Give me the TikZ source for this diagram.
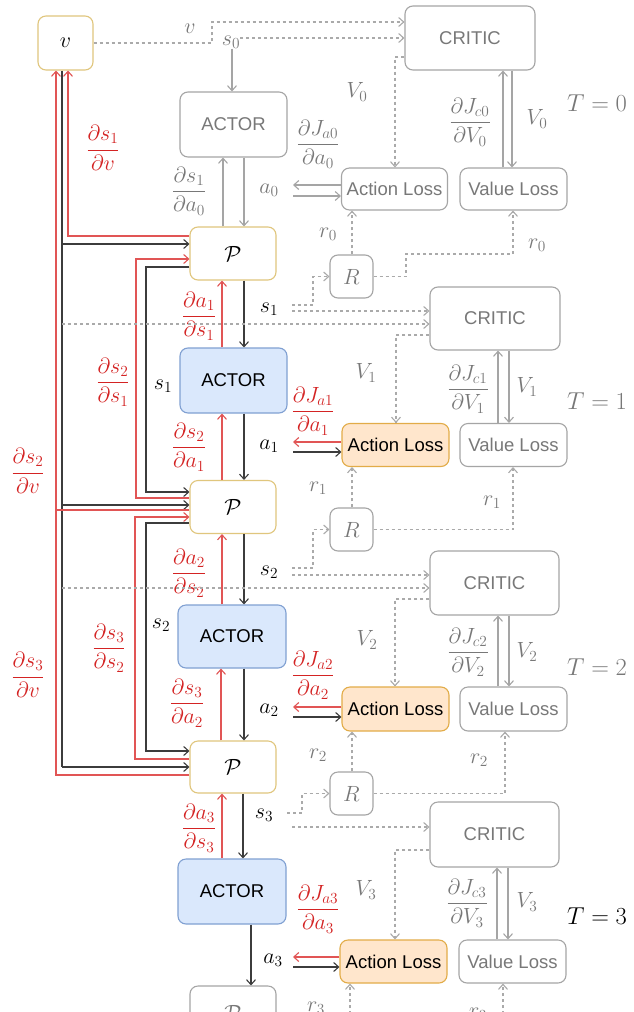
\RequirePackage{fix-cm}
\documentclass[tikz,border=0pt]{standalone}
\usepackage{amsmath}
\usepackage{fontspec}
\setsansfont{Liberation Sans}
\usetikzlibrary{arrows.meta}
\definecolor{gline}{RGB}{165,165,165}
\definecolor{gdline}{RGB}{170,170,170}
\definecolor{gtext}{RGB}{120,120,120}
\definecolor{yline}{RGB}{224,198,125}
\definecolor{rline}{RGB}{225,85,85}
\definecolor{rtext}{RGB}{212,35,35}
\definecolor{kline}{RGB}{60,60,60}
\definecolor{bfill}{RGB}{218,232,252}
\definecolor{bline}{RGB}{128,160,210}
\definecolor{ofill}{RGB}{255,230,204}
\definecolor{oline}{RGB}{226,172,72}
\tikzset{
  tip/.style={-{Straight Barb[length=5pt,width=9pt]}},
  boxbase/.style={draw, rounded corners=8pt, line width=1.1pt, anchor=center, inner sep=0pt,
    font=\sffamily\fontsize{18.5}{20}\selectfont},
  gbox/.style={boxbase, draw=gline, fill=white, text=gtext},
  ybox/.style={boxbase, draw=yline, fill=white, text=black},
  bbox/.style={boxbase, draw=bline, fill=bfill, text=black},
  obox/.style={boxbase, draw=oline, fill=ofill, text=black},
  garrow/.style={draw=gline, line width=1.1pt, tip},
  gdash/.style={draw=gdline, line width=1.1pt, dash pattern=on 3pt off 3pt, tip},
  karrow/.style={draw=kline, line width=1.1pt, tip},
  kline/.style={draw=kline, line width=1.1pt},
  rarrow/.style={draw=rline, line width=1.1pt, tip},
  rlinest/.style={draw=rline, line width=1.1pt},
  lab/.style={inner sep=0pt, anchor=center, font=\fontsize{22}{26}\selectfont},
  glab/.style={lab, text=gtext},
  rlab/.style={lab, text=rtext},
  klab/.style={lab, text=black},
  tlab/.style={inner sep=0pt, anchor=center, font=\fontsize{24.5}{28}\selectfont},
}
\begin{document}
\begin{tikzpicture}[x=1pt,y=-1pt]
\useasboundingbox (0,0) rectangle (633,1012);
\fill[white] (0,0) rectangle (633,1012);

% ---------- boxes ----------
\node[ybox, minimum width=55, minimum height=54, font=\fontsize{22}{26}\selectfont] (v) at (65.5,43) {$v$};
\node[gbox, minimum width=130, minimum height=64] (CRITIC0) at (470,38) {CRITIC};
\node[gbox, minimum width=107, minimum height=65] (ACTOR0) at (233.5,124.5) {ACTOR};
\node[gbox, minimum width=106, minimum height=42] (AL0) at (394.5,189) {Action Loss};
\node[gbox, minimum width=107, minimum height=42] (VL0) at (513.5,189) {Value Loss};
\node[ybox, minimum width=86, minimum height=53, font=\fontsize{22}{26}\selectfont] (P0) at (233,253.5) {$\mathcal{P}$};
\node[gbox, minimum width=43, minimum height=43, font=\fontsize{22}{26}\selectfont] (R0) at (351.5,276.5) {$R$};

\node[gbox, minimum width=130, minimum height=63] (CRITIC1) at (495,318.5) {CRITIC};
\node[bbox, minimum width=107, minimum height=65] (ACTOR1) at (233.5,380.5) {ACTOR};
\node[obox, minimum width=107, minimum height=43] (AL1) at (395.5,445) {Action Loss};
\node[gbox, minimum width=107, minimum height=43] (VL1) at (513.5,445) {Value Loss};
\node[ybox, minimum width=86, minimum height=53, font=\fontsize{22}{26}\selectfont] (P1) at (233,507) {$\mathcal{P}$};
\node[gbox, minimum width=43, minimum height=43, font=\fontsize{22}{26}\selectfont] (R1) at (351.5,529.5) {$R$};

\node[gbox, minimum width=129, minimum height=64] (CRITIC2) at (494.5,583) {CRITIC};
\node[bbox, minimum width=108, minimum height=63] (ACTOR2) at (232,636.5) {ACTOR};
\node[obox, minimum width=107, minimum height=44] (AL2) at (395.5,709) {Action Loss};
\node[gbox, minimum width=107, minimum height=44] (VL2) at (513.5,709) {Value Loss};
\node[ybox, minimum width=86, minimum height=52, font=\fontsize{22}{26}\selectfont] (P2) at (233,767) {$\mathcal{P}$};
\node[gbox, minimum width=43, minimum height=43, font=\fontsize{22}{26}\selectfont] (R2) at (351.5,793.5) {$R$};

\node[gbox, minimum width=129, minimum height=65] (CRITIC3) at (494.5,834.5) {CRITIC};
\node[bbox, minimum width=108, minimum height=65] (ACTOR3) at (232,891.5) {ACTOR};
\node[obox, minimum width=107, minimum height=43] (AL3) at (393.5,961.5) {Action Loss};
\node[gbox, minimum width=107, minimum height=43] (VL3) at (512.5,961.5) {Value Loss};
\node[gbox, minimum width=86, minimum height=54, font=\fontsize{22}{26}\selectfont] (P3) at (233,1013) {$\mathcal{P}$};

% ---------- labels ----------
\node[glab] (lv) at (190,29) {$v$};
\node[glab] (s0) at (231,42) {$s_0$};
\node[rlab] (d1v) at (103,148) {$\dfrac{\partial s_1}{\partial v}$};
\node[glab] (d1a0) at (189,191) {$\dfrac{\partial s_1}{\partial a_0}$};
\node[glab] (a0) at (269,190) {$a_0$};
\node[glab] (dJa0) at (318,144) {$\dfrac{\partial J_{a0}}{\partial a_0}$};
\node[glab] (V0a) at (357,92) {$V_0$};
\node[glab] (dJc0) at (470,122) {$\dfrac{\partial J_{c0}}{\partial V_0}$};
\node[glab] (V0b) at (537,119) {$V_0$};
\node[tlab, text=gtext] (T0) at (597,103) {$T=0$};
\node[glab] (r0a) at (328,234) {$r_0$};
\node[glab] (r0b) at (537,245) {$r_0$};

\node[rlab] (da1s1) at (199,316) {$\dfrac{\partial a_1}{\partial s_1}$};
\node[klab] (s1) at (269,309) {$s_1$};
\node[rlab] (ds2s1) at (113,382) {$\dfrac{\partial s_2}{\partial s_1}$};
\node[klab] (s1b) at (163,386) {$s_1$};
\node[rlab] (ds2a1) at (189,447) {$\dfrac{\partial s_2}{\partial a_1}$};
\node[klab] (a1) at (269,446) {$a_1$};
\node[rlab] (ds2v) at (28,471) {$\dfrac{\partial s_2}{\partial v}$};
\node[rlab] (dJa1) at (313,411) {$\dfrac{\partial J_{a1}}{\partial a_1}$};
\node[glab] (V1a) at (366,373) {$V_1$};
\node[glab] (dJc1) at (468,389) {$\dfrac{\partial J_{c1}}{\partial V_1}$};
\node[glab] (V1b) at (527,387) {$V_1$};
\node[tlab, text=gtext] (T1) at (597,401) {$T=1$};
\node[glab] (r1a) at (318,488) {$r_1$};
\node[glab] (r1b) at (492,502) {$r_1$};

\node[rlab] (da2s2) at (189,573) {$\dfrac{\partial a_2}{\partial s_2}$};
\node[klab] (s2) at (269,572) {$s_2$};
\node[klab] (s2b) at (161,625) {$s_2$};
\node[rlab] (ds3s2) at (109,648) {$\dfrac{\partial s_3}{\partial s_2}$};
\node[rlab] (ds3v) at (28,675) {$\dfrac{\partial s_3}{\partial v}$};
\node[rlab] (ds3a2) at (187,703) {$\dfrac{\partial s_3}{\partial a_2}$};
\node[klab] (a2) at (269,710) {$a_2$};
\node[rlab] (dJa2) at (313,675) {$\dfrac{\partial J_{a2}}{\partial a_2}$};
\node[glab] (V2a) at (367,640) {$V_2$};
\node[glab] (dJc2) at (468,652) {$\dfrac{\partial J_{c2}}{\partial V_2}$};
\node[glab] (V2b) at (527,652) {$V_2$};
\node[tlab, text=gtext] (T2) at (597,667) {$T=2$};
\node[glab] (r2a) at (318,755) {$r_2$};
\node[glab] (r2b) at (479,760) {$r_2$};

\node[rlab] (da3s3) at (199,828) {$\dfrac{\partial a_3}{\partial s_3}$};
\node[klab] (s3) at (264,815) {$s_3$};
\node[rlab] (dJa3) at (318,909) {$\dfrac{\partial J_{a3}}{\partial a_3}$};
\node[klab] (a3) at (273,960) {$a_3$};
\node[glab] (V3a) at (366,890) {$V_3$};
\node[glab] (dJc3) at (467,903) {$\dfrac{\partial J_{c3}}{\partial V_3}$};
\node[glab] (V3b) at (527,902) {$V_3$};
\node[tlab, text=black] (T3) at (597,916) {$T=3$};
\node[glab] (r3a) at (316,1008) {$r_3$};
\node[glab] (r3b) at (478,1014) {$r_3$};

% ---------- free-end coordinates ----------
\coordinate (vb1) at (62,324);
\coordinate (vb2) at (62,588);
\coordinate (s1o1) at (292,305);
\coordinate (s1o2) at (292,311);
\coordinate (s2o1) at (292,568);
\coordinate (s2o2) at (292,575);
\coordinate (s3o1) at (287,813);
\coordinate (s3o2) at (292,827);
\coordinate (a0o1) at (293,185);
\coordinate (a0o2) at (293,196);
\coordinate (a1o1) at (293,442);
\coordinate (a1o2) at (293,452);
\coordinate (a2o1) at (293,707);
\coordinate (a2o2) at (293,717);
\coordinate (a3o1) at (293,957);
\coordinate (a3o2) at (293,967);
\coordinate (r3s) at (350,1020);
\coordinate (r3t) at (503,1020);

% ---------- T = 0 ----------
\draw[gdash] (v.east) -- (212,43) -- (212,22) -- (CRITIC0.west |- 0,22);
\draw[gdash] (s0.east |- 0,38) -- (CRITIC0.west |- 0,38);
\draw[garrow] (s0.south -| 232,0) -- (ACTOR0.north -| 232,0);
\draw[garrow] (ACTOR0.south -| 244,0) -- (P0.north -| 244,0);
\draw[garrow] (P0.north -| 223,0) -- (ACTOR0.south -| 223,0);
\draw[garrow] (AL0.west |- a0o1) -- (a0o1);
\draw[garrow] (a0o2) -- (AL0.west |- a0o2);
\draw[gdash] (CRITIC0.west |- 0,57) -- (395,57) -- (AL0.north -| 395,0);
\draw[garrow] (VL0.north -| 503,0) -- (CRITIC0.south -| 503,0);
\draw[garrow] (CRITIC0.south -| 512,0) -- (VL0.north -| 512,0);
\draw[gdash] (R0.north -| 352,0) -- (AL0.south -| 352,0);
\draw[gdash] (R0.east) -- (406,276.5) -- (406,254) -- (513,254) -- (VL0.south -| 513,0);

% ---------- left feedback wiring ----------
\draw[kline] (v.south -| 62,0) -- (62,767);
\draw[karrow] (62,244) -- (P0.west |- 0,244);
\draw[karrow] (62,505) -- (P1.west |- 0,505);
\draw[karrow] (62,767) -- (P2.west |- 0,767);
\draw[rarrow] (P0.west |- 0,236) -- (68,236) -- (v.south -| 68,0);
\draw[rarrow] (P2.west |- 0,775) -- (56,775) -- (v.south -| 56,0);
\draw[rlinest] (P1.west |- 0,510) -- (56,510);
\draw[rarrow] (P1.west |- 0,498) -- (136,498) -- (136,259) -- (P0.west |- 0,259);
\draw[karrow] (P0.west |- 0,267) -- (146,267) -- (146,492) -- (P1.west |- 0,492);
\draw[rarrow] (P2.west |- 0,759) -- (135,759) -- (135,517) -- (P1.west |- 0,517);
\draw[karrow] (P1.west |- 0,523) -- (146,523) -- (146,751) -- (P2.west |- 0,751);

% ---------- T = 1 ----------
\draw[karrow] (P0.south -| 244,0) -- (ACTOR1.north -| 244,0);
\draw[rarrow] (ACTOR1.north -| 222,0) -- (P0.south -| 222,0);
\draw[gdash] (s1o1) -- (313,305) -- (313,276.5) -- (R0.west);
\draw[gdash] (s1o2) -- (CRITIC1.west |- s1o2);
\draw[gdash] (vb1) -- (CRITIC1.west |- vb1);
\draw[karrow] (ACTOR1.south -| 244,0) -- (P1.north -| 244,0);
\draw[rarrow] (P1.north -| 222,0) -- (ACTOR1.south -| 222,0);
\draw[rarrow] (AL1.west |- a1o1) -- (a1o1);
\draw[karrow] (a1o2) -- (AL1.west |- a1o2);
\draw[gdash] (CRITIC1.west |- 0,335) -- (396,335) -- (AL1.north -| 396,0);
\draw[garrow] (VL1.north -| 498,0) -- (CRITIC1.south -| 498,0);
\draw[garrow] (CRITIC1.south -| 509,0) -- (VL1.north -| 509,0);
\draw[gdash] (R1.north -| 352,0) -- (AL1.south -| 352,0);
\draw[gdash] (R1.east) -- (513,529.5) -- (VL1.south -| 513,0);

% ---------- T = 2 ----------
\draw[karrow] (P1.south -| 244,0) -- (ACTOR2.north -| 244,0);
\draw[rarrow] (ACTOR2.north -| 222,0) -- (P1.south -| 222,0);
\draw[gdash] (s2o1) -- (313,568) -- (313,529.5) -- (R1.west);
\draw[gdash] (s2o2) -- (CRITIC2.west |- s2o2);
\draw[gdash] (vb2) -- (CRITIC2.west |- vb2);
\draw[karrow] (ACTOR2.south -| 244,0) -- (P2.north -| 244,0);
\draw[rarrow] (P2.north -| 221,0) -- (ACTOR2.south -| 221,0);
\draw[rarrow] (AL2.west |- a2o1) -- (a2o1);
\draw[karrow] (a2o2) -- (AL2.west |- a2o2);
\draw[gdash] (CRITIC2.west |- 0,599) -- (395,599) -- (AL2.north -| 395,0);
\draw[garrow] (VL2.north -| 498,0) -- (CRITIC2.south -| 498,0);
\draw[garrow] (CRITIC2.south -| 509,0) -- (VL2.north -| 509,0);
\draw[gdash] (R2.north -| 352,0) -- (AL2.south -| 352,0);
\draw[gdash] (R2.east) -- (505,793.5) -- (VL2.south -| 505,0);

% ---------- T = 3 ----------
\draw[karrow] (P2.south -| 243,0) -- (ACTOR3.north -| 243,0);
\draw[rarrow] (ACTOR3.north -| 222,0) -- (P2.south -| 222,0);
\draw[gdash] (s3o1) -- (302,813) -- (302,793.5) -- (R2.west);
\draw[gdash] (s3o2) -- (CRITIC3.west |- s3o2);
\draw[karrow] (ACTOR3.south -| 251,0) -- (P3.north -| 251,0);
\draw[rarrow] (AL3.west |- a3o1) -- (a3o1);
\draw[karrow] (a3o2) -- (AL3.west |- a3o2);
\draw[gdash] (CRITIC3.west |- 0,850) -- (395,850) -- (AL3.north -| 395,0);
\draw[garrow] (VL3.north -| 497,0) -- (CRITIC3.south -| 497,0);
\draw[garrow] (CRITIC3.south -| 508,0) -- (VL3.north -| 508,0);
\draw[gdash] (r3s) -- (AL3.south -| r3s);
\draw[gdash] (r3t) -- (VL3.south -| r3t);
\end{tikzpicture}
\end{document}
